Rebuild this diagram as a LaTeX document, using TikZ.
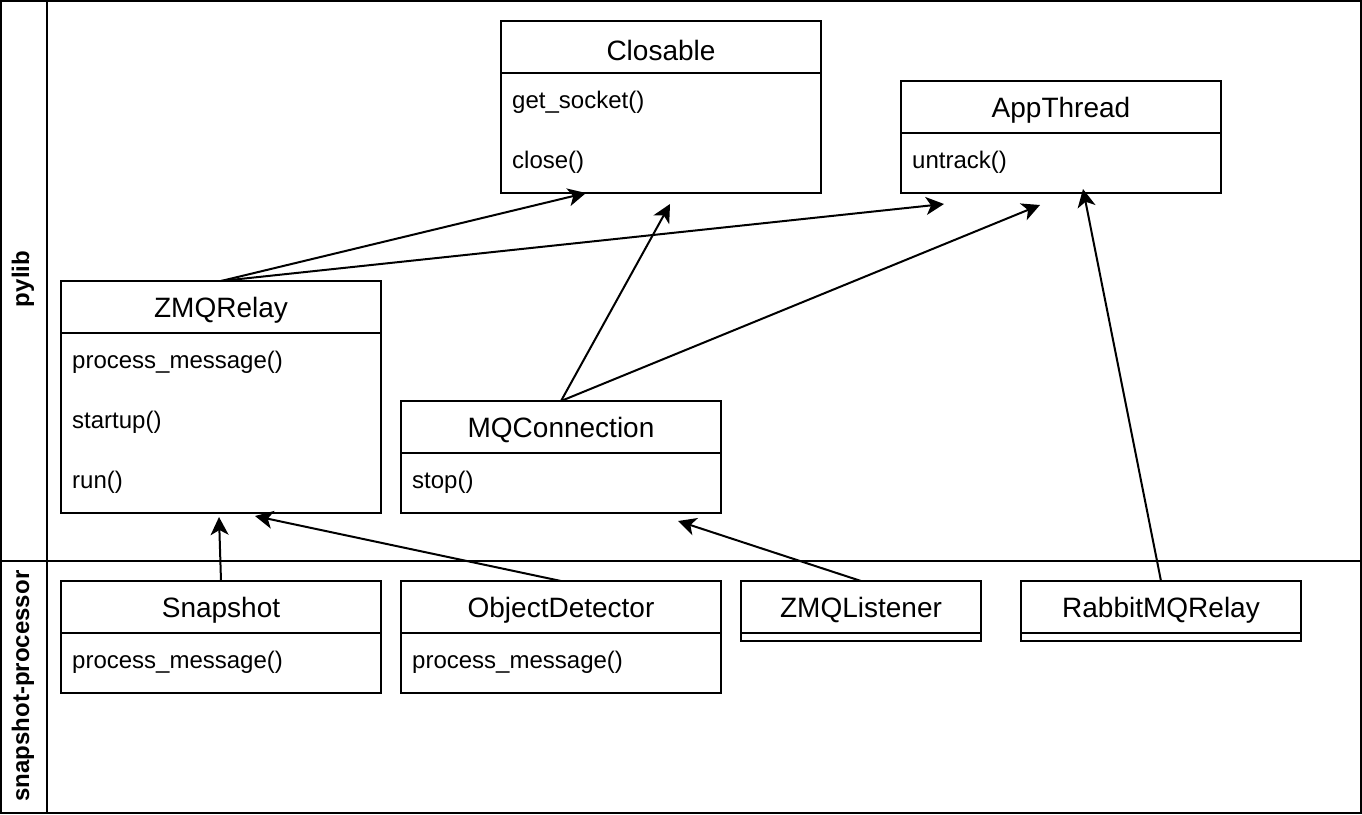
\documentclass[tikz,border=0pt]{standalone}
\usepackage{fontspec}
\setmainfont{Liberation Sans}
\usetikzlibrary{arrows.meta}

\tikzset{
  classbox/.style={draw, line width=2pt, anchor=north west, inner sep=0pt, outer sep=0pt, minimum width=#1},
  ctitle/.style={font=\fontsize{28}{32}\selectfont},
  cmethod/.style={anchor=west, inner sep=0pt, font=\fontsize{24}{28}\selectfont},
  lanelabel/.style={rotate=90, font=\bfseries\fontsize{24}{28}\selectfont},
  extends/.style={line width=2pt, -{Stealth[length=18pt, width=18pt, inset=5pt]}}
}

\begin{document}
\begin{tikzpicture}[x=1pt, y=-1pt]
	\useasboundingbox (0,0) rectangle (1362,814);
	% lanes
	\draw[line width=2pt] (1,1) rectangle (1361,813);
	\draw[line width=2pt] (47,1) -- (47,813)  (1,561) -- (1361,561);
	\node[lanelabel] (pylib) at (23,279) {pylib};
	\node[lanelabel] (snapproc) at (23,686) {snapshot-processor};

	% pylib classes
	\node[classbox=320pt, minimum height=172pt] (closable) at (501,21) {};
	\draw[line width=2pt] (closable.north west) ++(0,52) -- ++(320,0);
	\node[ctitle] (closableT) at (661,50) {Closable};
	\node[cmethod] (closableM1) at (512,102) {get\_socket()};
	\node[cmethod] (closableM2) at (512,162) {close()};

	\node[classbox=320pt, minimum height=112pt] (appthread) at (901,81) {};
	\draw[line width=2pt] (appthread.north west) ++(0,52) -- ++(320,0);
	\node[ctitle] (appthreadT) at (1061,110) {AppThread};
	\node[cmethod] (appthreadM1) at (912,162) {untrack()};

	\node[classbox=320pt, minimum height=232pt] (zmqrelay) at (61,281) {};
	\draw[line width=2pt] (zmqrelay.north west) ++(0,52) -- ++(320,0);
	\node[ctitle] (zmqrelayT) at (221,310) {ZMQRelay};
	\node[cmethod] (zmqrelayM1) at (72,362) {process\_message()};
	\node[cmethod] (zmqrelayM2) at (72,422) {startup()};
	\node[cmethod] (zmqrelayM3) at (72,482) {run()};

	\node[classbox=320pt, minimum height=112pt] (mqconn) at (401,401) {};
	\draw[line width=2pt] (mqconn.north west) ++(0,52) -- ++(320,0);
	\node[ctitle] (mqconnT) at (561,430) {MQConnection};
	\node[cmethod] (mqconnM1) at (412,482) {stop()};

	% snapshot-processor classes
	\node[classbox=320pt, minimum height=112pt] (snapshot) at (61,581) {};
	\draw[line width=2pt] (snapshot.north west) ++(0,52) -- ++(320,0);
	\node[ctitle] (snapshotT) at (221,610) {Snapshot};
	\node[cmethod] (snapshotM1) at (72,662) {process\_message()};

	\node[classbox=320pt, minimum height=112pt] (objdet) at (401,581) {};
	\draw[line width=2pt] (objdet.north west) ++(0,52) -- ++(320,0);
	\node[ctitle] (objdetT) at (561,610) {ObjectDetector};
	\node[cmethod] (objdetM1) at (412,662) {process\_message()};

	\node[classbox=240pt, minimum height=60pt] (zmqlistener) at (741,581) {};
	\draw[line width=2pt] (zmqlistener.north west) ++(0,52) -- ++(240,0);
	\node[ctitle] (zmqlistenerT) at (861,610) {ZMQListener};

	\node[classbox=280pt, minimum height=60pt] (rabbit) at (1021,581) {};
	\draw[line width=2pt] (rabbit.north west) ++(0,52) -- ++(280,0);
	\node[ctitle] (rabbitT) at (1161,610) {RabbitMQRelay};

	% loose arrow ends
	\coordinate (relayToClosable) at (586,193);
	\coordinate (relayToApp) at (944,204);
	\coordinate (mqToClosable) at (670,204);
	\coordinate (mqToApp) at (1040,205);
	\coordinate (rabbitToApp) at (1083,189);
	\coordinate (snapToRelay) at (219,517);
	\coordinate (detToRelay) at (255,516);
	\coordinate (listenerToMq) at (678,521);

	% inheritance
	\draw[extends] (zmqrelay.north) -- (relayToClosable);
	\draw[extends] (zmqrelay.north) -- (relayToApp);
	\draw[extends] (mqconn.north) -- (mqToClosable);
	\draw[extends] (mqconn.north) -- (mqToApp);
	\draw[extends] (rabbit.north) -- (rabbitToApp);
	\draw[extends] (snapshot.north) -- (snapToRelay);
	\draw[extends] (objdet.north) -- (detToRelay);
	\draw[extends] (zmqlistener.north) -- (listenerToMq);
\end{tikzpicture}
\end{document}
